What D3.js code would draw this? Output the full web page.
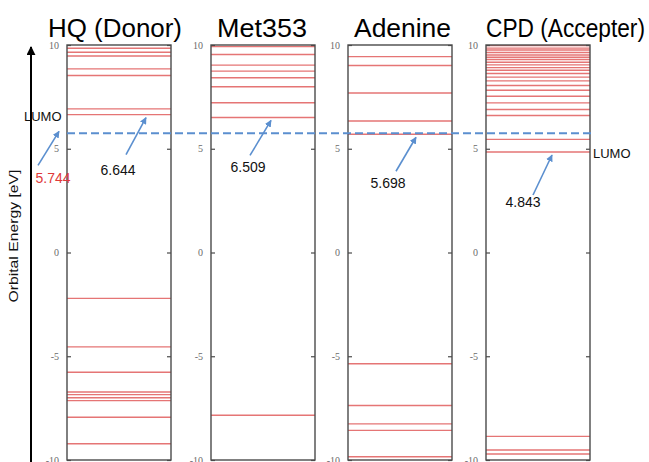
<!DOCTYPE html>
<html>
<head>
<meta charset="utf-8">
<script src="https://cdn.jsdelivr.net/npm/d3@7"></script>
<style>
  html, body { margin: 0; padding: 0; background: #fff; }
  svg { display: block; }
</style>
</head>
<body>
<svg id="chart" width="649" height="462"></svg>
<script>
// Molecule panels and their orbital energy levels (eV)
const molecules = ["HQ (Donor)", "Met353", "Adenine", "CPD (Accepter)"];

const hqLevels = [9.84, 9.65, 9.47, 8.85, 8.53, 6.92, 6.644,
  -2.21, -4.55, -5.77, -6.72, -6.85, -7.00, -7.14, -7.94, -9.22];
const metLevels = [9.92, 9.54, 9.03, 8.74, 8.42, 7.99, 7.22, 6.509, -7.84];
const adenineLevels = [9.44, 9.01, 7.69, 6.34, 5.698,
  -5.36, -7.37, -8.26, -8.57, -9.84];
const cpdLevels = [9.97, 9.85, 9.76, 9.64, 9.52, 9.41, 9.30, 9.17, 9.04, 8.91,
  8.78, 8.63, 8.45, 8.27, 8.05, 7.82, 7.53, 7.21, 6.89, 6.60, 5.45, 4.843,
  -8.86, -9.52, -9.71];

// Highlighted LUMO value of each molecule, and the donor reference level
const lumoValues = [6.644, 6.509, 5.698, 4.843];
const lumoLabels = ["6.644", "6.509", "5.698", "4.843"];
const donorLumo = 5.744;
const donorLumoLabel = "5.744";

const tickValues = [-10, -5, 0, 5, 10];
const axisTitle = "Orbital Energy [eV]";

const levelSets = [hqLevels, metLevels, adenineLevels, cpdLevels];

// ---- layout ----
const panelLeft = [67, 211, 348, 486];
const panelWidth = 104;
const titleLeft = [48, 217, 354, 486];
const titleWidth = [134, 90, 97, 159];
// arrow tip offset from the panel's left edge, and tail offset from the tip
const arrowTipDx = [79, 60, 68, 66];
const arrowTail = [[-20, 37], [-21, 35], [-20, 34], [-19, 40]];
const labelOffset = [[-8, 20], [-2, 17], [-8, 17], [-10, 12]];

const levelColor = "#e57575";
const frameColor = "#4a4a4a";
const arrowColor = "#5b8fcf";

const svg = d3.select("#chart");

const y = d3.scaleLinear().domain([-10, 10]).range([460, 45]);

// arrowhead markers
const defs = svg.append("defs");
defs.append("marker")
  .attr("id", "blueHead")
  .attr("viewBox", "0 0 10 10")
  .attr("refX", 9).attr("refY", 5)
  .attr("markerWidth", 7).attr("markerHeight", 7)
  .attr("markerUnits", "userSpaceOnUse")
  .attr("orient", "auto")
  .append("path").attr("d", "M0,0 L10,5 L0,10 Z").attr("fill", arrowColor);
defs.append("marker")
  .attr("id", "blackHead")
  .attr("viewBox", "0 0 10 10")
  .attr("refX", 9).attr("refY", 5)
  .attr("markerWidth", 9).attr("markerHeight", 9)
  .attr("markerUnits", "userSpaceOnUse")
  .attr("orient", "auto")
  .append("path").attr("d", "M0,0 L10,5 L0,10 Z").attr("fill", "#000");

// panels
molecules.forEach((name, i) => {
  const x0 = panelLeft[i];
  const g = svg.append("g").attr("transform", `translate(${x0},0)`);

  // energy levels
  g.selectAll("line.level")
    .data(levelSets[i])
    .join("line")
    .attr("class", "level")
    .attr("x1", 0).attr("x2", panelWidth)
    .attr("y1", d => y(d)).attr("y2", d => y(d))
    .attr("stroke", levelColor)
    .attr("stroke-width", 1.4);

  // left axis with labels, ticks pointing inward
  const left = g.append("g")
    .call(d3.axisLeft(y).tickValues(tickValues).tickSize(-4).tickPadding(8)
      .tickFormat(d => String(d)));
  left.select(".domain").remove();
  left.selectAll(".tick line").attr("stroke", frameColor).attr("stroke-width", 1.2);
  left.selectAll(".tick text")
    .attr("font-family", "'Liberation Serif', 'DejaVu Serif', serif")
    .attr("font-size", 10)
    .attr("fill", "#6a6a6a");

  // right axis ticks only
  const right = g.append("g").attr("transform", `translate(${panelWidth},0)`)
    .call(d3.axisRight(y).tickValues(tickValues).tickSize(-4).tickFormat(""));
  right.select(".domain").remove();
  right.selectAll(".tick line").attr("stroke", frameColor).attr("stroke-width", 1.2);

  // frame
  g.append("rect")
    .attr("x", 0).attr("y", y(10))
    .attr("width", panelWidth).attr("height", y(-10) - y(10))
    .attr("fill", "none")
    .attr("stroke", frameColor)
    .attr("stroke-width", 1.4);

  // title
  svg.append("text")
    .attr("x", titleLeft[i]).attr("y", 37)
    .attr("font-family", "'Liberation Sans', Arial, sans-serif")
    .attr("font-size", 25)
    .attr("textLength", titleWidth[i])
    .attr("lengthAdjust", "spacingAndGlyphs")
    .attr("fill", "#000")
    .text(name);
});

// donor LUMO reference line
svg.append("line")
  .attr("x1", panelLeft[0]).attr("x2", panelLeft[3] + panelWidth + 2)
  .attr("y1", y(donorLumo)).attr("y2", y(donorLumo))
  .attr("stroke", arrowColor)
  .attr("stroke-width", 2)
  .attr("stroke-dasharray", "8,4");

// LUMO arrows and values
lumoValues.forEach((v, i) => {
  const tx = panelLeft[i] + arrowTipDx[i];
  const ty = y(v) + 3;
  const sx = tx + arrowTail[i][0];
  const sy = ty + arrowTail[i][1];
  svg.append("line")
    .attr("x1", sx).attr("y1", sy).attr("x2", tx).attr("y2", ty)
    .attr("stroke", arrowColor).attr("stroke-width", 1.6)
    .attr("marker-end", "url(#blueHead)");
  svg.append("text")
    .attr("x", sx + labelOffset[i][0]).attr("y", sy + labelOffset[i][1])
    .attr("text-anchor", "middle")
    .attr("font-family", "'Liberation Sans', Arial, sans-serif")
    .attr("font-size", 14)
    .attr("fill", "#111")
    .text(lumoLabels[i]);
});

// donor LUMO annotation on the left
const dTipY = y(donorLumo) - 2;
svg.append("line")
  .attr("x1", 38).attr("y1", dTipY + 34).attr("x2", 59).attr("y2", dTipY)
  .attr("stroke", arrowColor).attr("stroke-width", 1.6)
  .attr("marker-end", "url(#blueHead)");
svg.append("text")
  .attr("x", 53).attr("y", dTipY + 52)
  .attr("text-anchor", "middle")
  .attr("font-family", "'Liberation Sans', Arial, sans-serif")
  .attr("font-size", 14)
  .attr("fill", "#e03a3a")
  .text(donorLumoLabel);
svg.append("text")
  .attr("x", 24).attr("y", 121)
  .attr("font-family", "'Liberation Sans', Arial, sans-serif")
  .attr("font-size", 13)
  .attr("fill", "#111")
  .text("LUMO");

// acceptor LUMO label
svg.append("text")
  .attr("x", 593).attr("y", y(lumoValues[3]) + 6)
  .attr("font-family", "'Liberation Sans', Arial, sans-serif")
  .attr("font-size", 13)
  .attr("fill", "#111")
  .text("LUMO");

// energy axis arrow and title
svg.append("line")
  .attr("x1", 31).attr("x2", 31)
  .attr("y1", 462).attr("y2", 47)
  .attr("stroke", "#000").attr("stroke-width", 2)
  .attr("marker-end", "url(#blackHead)");
svg.append("text")
  .attr("transform", "translate(18,236) rotate(-90)")
  .attr("text-anchor", "middle")
  .attr("font-family", "'Liberation Sans', Arial, sans-serif")
  .attr("font-size", 13)
  .attr("textLength", 133)
  .attr("lengthAdjust", "spacingAndGlyphs")
  .attr("fill", "#111")
  .text(axisTitle);
</script>
</body>
</html>
